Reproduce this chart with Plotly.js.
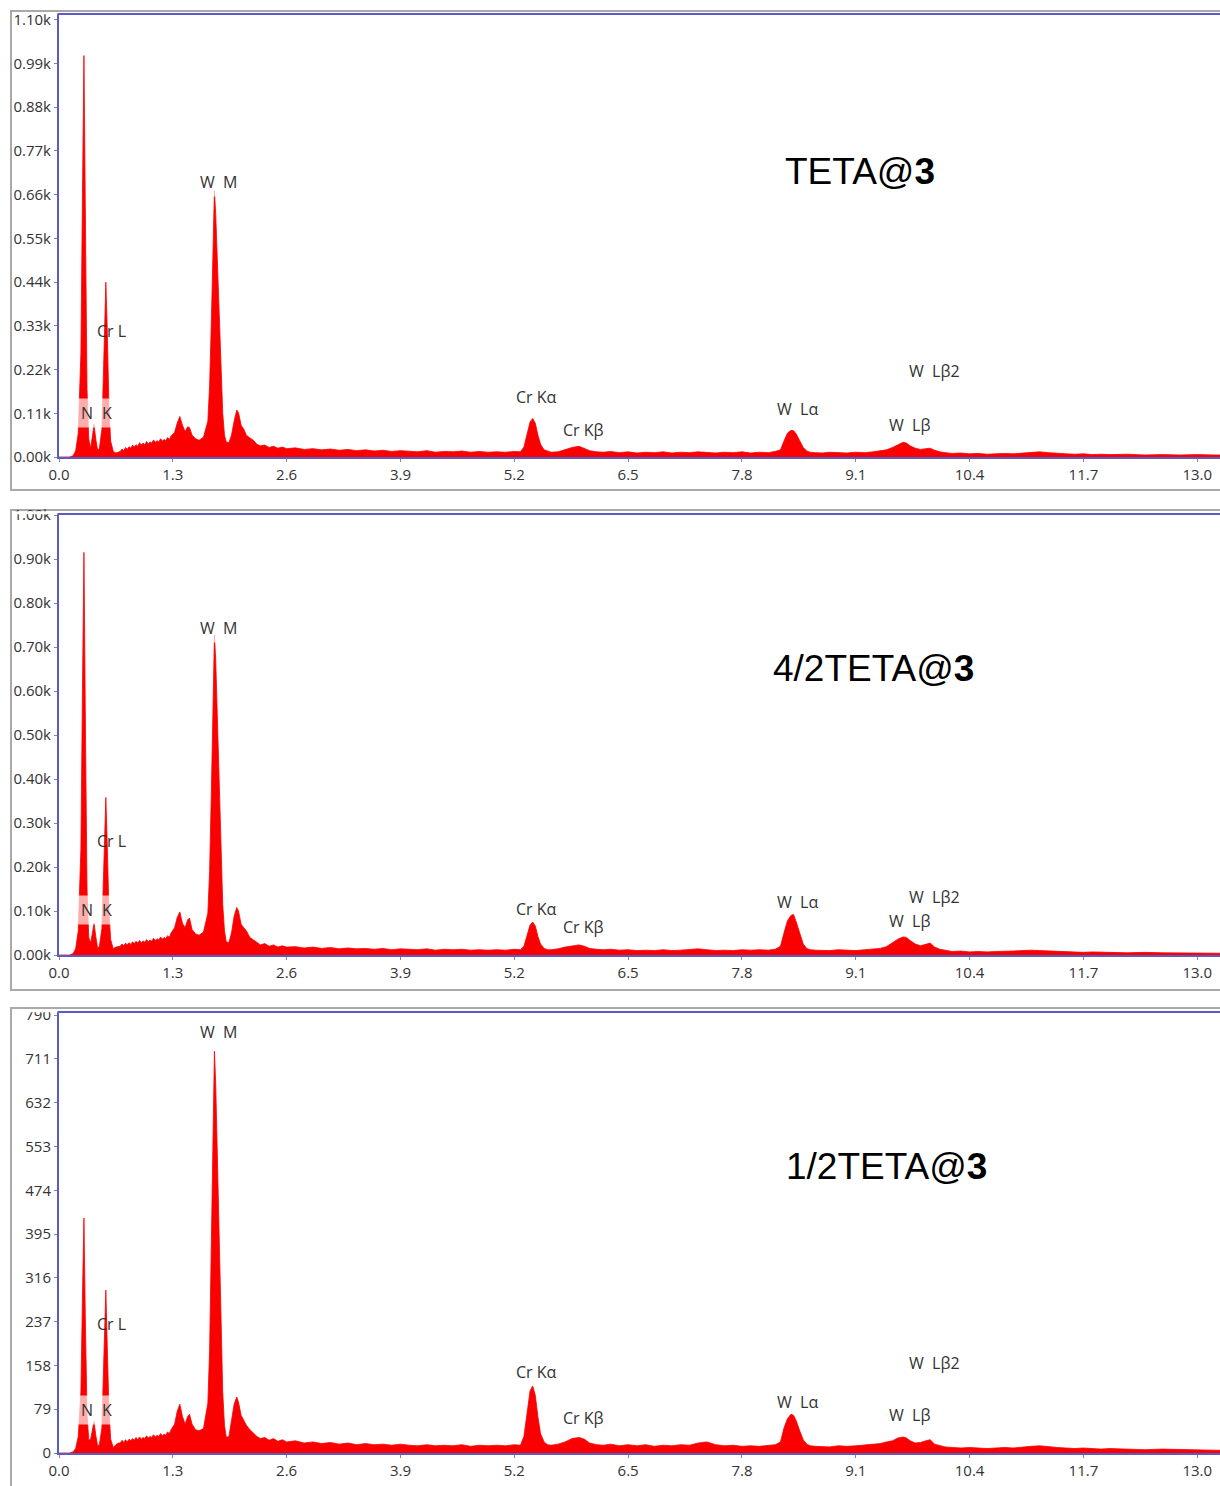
<!DOCTYPE html>
<html>
<head>
<meta charset="utf-8">
<script src="https://cdn.plot.ly/plotly-3.0.1.min.js"></script>
<style>
  html, body { margin: 0; padding: 0; background: #ffffff; }
  #chart { width: 1220px; height: 1486px; }
</style>
</head>
<body>
<div id="chart"></div>
<script>
// EDS spectra: energy grid (keV) shared by the three samples
const keV = [
  0.00, 0.12, 0.16, 0.19, 0.22, 0.25, 0.27, 0.285, 0.30, 0.32, 0.34, 0.36, 0.38, 0.40, 0.42, 0.44, 0.46, 0.49, 0.51, 0.525, 0.535, 0.55, 0.57, 0.59, 0.62, 0.65, 0.68,
  0.70, 0.72, 0.74, 0.76, 0.78, 0.80, 0.82, 0.84, 0.86, 0.88, 0.90, 0.92, 0.94, 0.96, 0.98,
  1.00, 1.02, 1.04, 1.06, 1.08, 1.10, 1.12, 1.14, 1.16, 1.18, 1.20, 1.22, 1.24, 1.26, 1.28,
  1.32, 1.35, 1.38, 1.41, 1.44, 1.47, 1.49, 1.52, 1.56, 1.60,
  1.65, 1.70, 1.72, 1.74, 1.76, 1.775, 1.79, 1.81, 1.83, 1.85, 1.87, 1.89, 1.91,
  1.94, 1.97, 2.00, 2.03, 2.05, 2.08, 2.11, 2.14, 2.18, 2.22, 2.26, 2.30, 2.35, 2.40, 2.45, 2.50, 2.55, 2.60,
  2.7, 2.8, 2.9, 3.0, 3.1, 3.2, 3.3, 3.4, 3.5, 3.6, 3.7, 3.8, 3.9, 4.0, 4.1, 4.2, 4.3, 4.4, 4.5, 4.6, 4.7, 4.8, 4.9, 5.0, 5.1, 5.2, 5.27,
  5.31, 5.35, 5.38, 5.41, 5.44, 5.47, 5.50, 5.54, 5.58, 5.62,
  5.70, 5.78, 5.86, 5.94, 6.00, 6.06, 6.14, 6.22, 6.30, 6.40, 6.50, 6.60, 6.70, 6.80, 6.90, 7.00, 7.10, 7.20, 7.30, 7.40, 7.50, 7.60, 7.70, 7.80, 7.90, 8.00, 8.10, 8.18,
  8.24, 8.28, 8.32, 8.36, 8.39, 8.42, 8.46, 8.50, 8.54, 8.58, 8.64,
  8.72, 8.80, 8.90, 9.00, 9.10, 9.20, 9.30, 9.38, 9.45,
  9.52, 9.58, 9.64, 9.68, 9.72, 9.78, 9.84, 9.90, 9.95, 10.00, 10.06, 10.12,
  10.2, 10.3, 10.4, 10.5, 10.6, 10.7, 10.8, 10.9, 11.0, 11.1, 11.2, 11.3, 11.4, 11.5, 11.6, 11.7, 11.8, 11.9, 12.0, 12.2, 12.4, 12.6, 12.8, 13.0, 13.2, 13.3
];

// counts — TETA@3
const countsTETA = [
  0, 0, 3, 15, 60, 260, 700, 1010, 640, 170, 45, 22, 50, 82, 45, 18, 20, 70, 230, 370, 440, 330, 130, 40, 14, 10, 13,
  14, 20, 16, 24, 19, 26, 22, 30, 25, 31, 27, 36, 30, 35, 31,
  39, 33, 38, 35, 43, 37, 41, 38, 46, 40, 44, 41, 49, 44, 53,
  62, 85, 102, 80, 64, 76, 74, 55, 46, 42,
  50, 90, 180, 340, 560, 670, 610, 470, 330, 200, 110, 55, 38,
  36, 55, 90, 118, 112, 80, 70, 55, 48, 42, 32, 28, 30, 24, 27, 22, 25, 21,
  23, 19, 21, 18, 20, 17, 19, 16, 18, 15, 17, 14, 16, 15, 13, 16, 12, 14, 13, 15, 12, 14, 12, 13, 12, 14, 13,
  25, 60, 88, 97, 85, 55, 32, 18, 14, 12,
  13, 18, 24, 27, 22, 16, 13, 12, 14, 11, 13, 10, 12, 11, 13, 10, 12, 11, 13, 12, 10, 12, 11, 13, 10, 12, 11, 14,
  18, 40, 60, 67, 66, 58, 40, 24, 15, 12, 11,
  10, 12, 11, 10, 12, 11, 13, 15, 18,
  24, 30, 37, 35, 28, 22, 19, 21, 22, 17, 13, 11,
  9, 10, 8, 9, 7, 8, 9, 8, 10, 12, 13, 11, 9, 8, 7, 8, 6, 7, 6, 7, 5, 6, 5, 6, 5, 5
];

// counts — 4/2TETA@3
const counts42TETA = [
  0, 0, 3, 14, 55, 240, 640, 915, 560, 150, 40, 27, 48, 73, 42, 17, 18, 60, 190, 300, 358, 260, 100, 35, 14, 18, 20,
  20, 25, 21, 27, 23, 28, 24, 30, 26, 31, 27, 33, 28, 32, 29,
  35, 30, 34, 31, 38, 33, 37, 34, 41, 36, 40, 37, 44, 40, 50,
  62, 85, 98, 72, 62, 80, 84, 58, 48, 45,
  52, 95, 190, 370, 610, 727, 670, 520, 360, 215, 115, 55, 30,
  28, 50, 88, 108, 100, 70, 62, 55, 40, 34, 27, 23, 26, 20, 23, 18, 21, 18,
  19, 16, 18, 15, 17, 14, 16, 14, 15, 13, 15, 12, 14, 13, 12, 14, 11, 13, 12, 13, 11, 12, 11, 12, 11, 13, 12,
  20, 48, 68, 75, 66, 42, 25, 15, 12, 12,
  14, 18, 21, 23, 20, 15, 13, 12, 13, 11, 12, 10, 11, 10, 12, 10, 11, 13, 14, 12, 10, 11, 10, 12, 11, 12, 11, 13,
  20, 50, 78, 90, 92, 75, 48, 25, 15, 12, 11,
  11, 10, 12, 11, 10, 12, 13, 15, 19,
  28, 36, 41, 40, 33, 25, 21, 25, 27, 18, 13, 11,
  8, 9, 7, 8, 7, 8, 8, 9, 10, 11, 10, 9, 8, 7, 7, 6, 7, 6, 6, 5, 6, 5, 5, 5, 4, 4
];

// counts — 1/2TETA@3
const counts12TETA = [
  0, 0, 2, 8, 30, 110, 300, 424, 250, 70, 24, 24, 40, 57, 32, 14, 14, 45, 160, 245, 294, 200, 80, 25, 10, 15, 18,
  18, 23, 19, 24, 20, 25, 22, 26, 23, 28, 24, 29, 25, 28, 26,
  31, 27, 30, 28, 33, 29, 32, 30, 35, 31, 34, 32, 38, 35, 42,
  52, 75, 88, 66, 52, 66, 70, 52, 42, 40,
  44, 90, 185, 365, 605, 725, 665, 515, 355, 210, 110, 50, 29,
  29, 55, 88, 101, 92, 68, 60, 50, 42, 36, 30, 26, 28, 23, 26, 21, 24, 20,
  22, 18, 20, 17, 19, 16, 18, 15, 17, 15, 16, 14, 16, 14, 13, 15, 13, 14, 13, 15, 12, 14, 13, 14, 13, 15, 14,
  30, 80, 112, 121, 104, 65, 35, 20, 15, 14,
  16, 20, 26, 28, 25, 18, 15, 14, 16, 13, 15, 13, 15, 12, 14, 13, 15, 14, 18, 20, 15, 13, 14, 12, 13, 12, 13, 15,
  20, 45, 62, 70, 68, 58, 40, 24, 16, 13, 12,
  12, 11, 13, 12, 13, 14, 15, 17, 20,
  22, 27, 29, 27, 22, 18, 19, 22, 24, 16, 13, 11,
  10, 9, 10, 9, 8, 9, 10, 9, 11, 12, 13, 11, 10, 9, 8, 9, 8, 7, 8, 7, 6, 7, 6, 6, 5, 5
];

// axis ticks
const xTickVals = [0, 1.3, 2.6, 3.9, 5.2, 6.5, 7.8, 9.1, 10.4, 11.7, 13.0];
const xTickText = ['0.0', '1.3', '2.6', '3.9', '5.2', '6.5', '7.8', '9.1', '10.4', '11.7', '13.0'];
const yTickVals1 = [0, 110, 220, 330, 440, 550, 660, 770, 880, 990, 1100];
const yTickText1 = ['0.00k', '0.11k', '0.22k', '0.33k', '0.44k', '0.55k', '0.66k', '0.77k', '0.88k', '0.99k', '1.10k'];
const yTickVals2 = [0, 100, 200, 300, 400, 500, 600, 700, 800, 900, 1000];
const yTickText2 = ['0.00k', '0.10k', '0.20k', '0.30k', '0.40k', '0.50k', '0.60k', '0.70k', '0.80k', '0.90k', '1.00k'];
const yTickVals3 = [0, 79, 158, 237, 316, 395, 474, 553, 632, 711, 790];
const yTickText3 = ['0', '79', '158', '237', '316', '395', '474', '553', '632', '711', '790'];

// sample names and peak names
const sampleNames = ['TETA@<b>3</b>', '4/2TETA@<b>3</b>', '1/2TETA@<b>3</b>'];
const peakNames = ['W\u00a0\u00a0M', 'Cr L', 'N', 'K', 'Cr K\u03b1', 'Cr K\u03b2', 'W\u00a0 L\u03b1', 'W\u00a0 L\u03b22', 'W\u00a0 L\u03b2'];

// ---------- drawing ----------
const RED = 'rgb(250,0,0)';
const BLUE = '#5b5bc6';
const FRAME = '#a9a9a9';
const TICKFONT = { family: "'Open Sans', 'Noto Sans', sans-serif", size: 15, color: '#333333' };

const H = 1486, W = 1220;
const M = { l: 59, r: 0, t: 15, b: 33 };
const plotH = H - M.t - M.b, plotW = W - M.l - M.r;
const py = p => (H - M.b - p) / plotH;   // pixel row -> paper y
const px = p => (p - M.l) / plotW;       // pixel column -> paper x

function spectrum(y, xa, ya) {
  return {
    type: 'scatter', mode: 'lines', x: keV, y: y, xaxis: xa, yaxis: ya,
    line: { color: RED, width: 0.8 }, fill: 'tozeroy', fillcolor: RED,
    hoverinfo: 'skip'
  };
}

const data = [
  spectrum(countsTETA, 'x', 'y'),
  spectrum(counts42TETA, 'x2', 'y2'),
  spectrum(counts12TETA, 'x3', 'y3')
];

function xAxis(anchor) {
  return {
    anchor: anchor, domain: [0, 1], range: [0, 13.26],
    tickmode: 'array', tickvals: xTickVals, ticktext: xTickText,
    showline: true, linecolor: BLUE, linewidth: 2, mirror: true,
    ticks: 'outside', ticklen: 3, tickcolor: '#888888',
    showgrid: false, zeroline: false, tickfont: TICKFONT, fixedrange: true
  };
}
function yAxis(anchor, domain, top, vals, text) {
  return {
    anchor: anchor, domain: domain, range: [0, top],
    tickmode: 'array', tickvals: vals, ticktext: text,
    showline: true, linecolor: BLUE, linewidth: 2,
    ticks: 'outside', ticklen: 3, tickcolor: '#888888',
    showgrid: false, zeroline: false, tickfont: TICKFONT, fixedrange: true
  };
}

// peak label positions per panel: [keV, counts]
const labelX = [1.82, 0.594, 0.32, 0.548, 5.45, 5.99, 8.43, 10.0, 9.71];
const labelY = [
  [692, 317, 111, 111, 151, 68, 121, 216, 81],
  [743, 259, 102, 102, 105, 64, 120, 132, 77],
  [760, 233, 77, 77, 147, 64, 92, 162, 68]
];
// labels drawn on a translucent white box (they sit across a peak)
const boxedLabel = [true, false, true, true, false, false, false, false, false];
const axesRefs = [['x', 'y'], ['x2', 'y2'], ['x3', 'y3']];

const annotations = [];
axesRefs.forEach((r, i) => {
  peakNames.forEach((name, j) => {
    annotations.push({
      xref: r[0], yref: r[1], x: labelX[j], y: labelY[i][j],
      text: name, showarrow: false, xanchor: 'center', yanchor: 'middle',
      font: { family: "'Open Sans', 'Noto Sans', sans-serif", size: 16, color: '#333333' },
      bgcolor: boxedLabel[j] ? 'rgba(255,255,255,0.68)' : 'rgba(0,0,0,0)', borderpad: 3
    });
  });
});

// sample titles
const titlePos = [[860, 172], [873, 668], [886, 1166]];
sampleNames.forEach((name, i) => {
  annotations.push({
    xref: 'paper', yref: 'paper', x: px(titlePos[i][0]), y: py(titlePos[i][1]),
    text: name, showarrow: false, xanchor: 'center', yanchor: 'middle',
    font: { family: "'Liberation Sans', Arial, sans-serif", size: 37, color: '#000000' }
  });
});

// outer panel frames and the strips above each plot area
const frames = [[11, 490], [510, 990], [1008, 1492]];
const shapes = frames.map(f => ({
  type: 'rect', xref: 'paper', yref: 'paper', layer: 'below',
  x0: px(11), x1: px(1230), y0: py(f[1]), y1: py(f[0]),
  line: { color: FRAME, width: 2 }, fillcolor: 'rgba(0,0,0,0)'
}));
const plotTops = [15, 515, 1013];
plotTops.forEach((t, i) => {
  shapes.push({
    type: 'rect', xref: 'paper', yref: 'paper', layer: 'above',
    x0: px(12.5), x1: px(57.5), y0: py(t - 0.8), y1: py(frames[i][0] + 1.2),
    line: { width: 0 }, fillcolor: '#ffffff'
  });
});

const layout = {
  width: W, height: H,
  margin: M,
  paper_bgcolor: '#ffffff', plot_bgcolor: '#ffffff',
  showlegend: false,
  xaxis: xAxis('y'),
  xaxis2: xAxis('y2'),
  xaxis3: xAxis('y3'),
  yaxis: yAxis('x', [py(457), 1], 1112, yTickVals1, yTickText1),
  yaxis2: yAxis('x2', [py(955), py(515)], 1000, yTickVals2, yTickText2),
  yaxis3: yAxis('x3', [0, py(1013)], 794, yTickVals3, yTickText3),
  annotations: annotations,
  shapes: shapes
};

Plotly.newPlot('chart', data, layout, { staticPlot: true, displayModeBar: false });
</script>
</body>
</html>
